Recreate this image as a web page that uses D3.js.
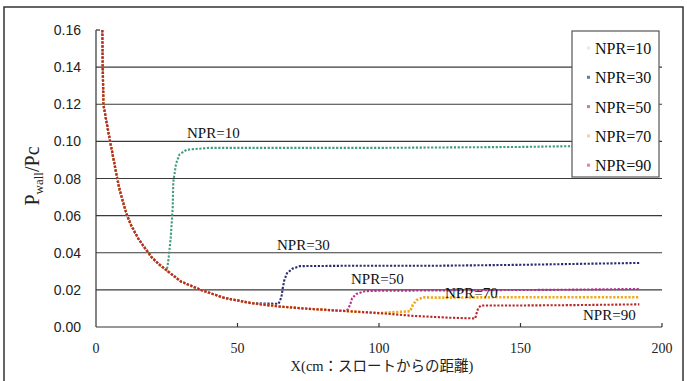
<!DOCTYPE html>
<html>
<head>
<meta charset="utf-8">
<script src="https://cdn.jsdelivr.net/npm/d3@7"></script>
<style>
  body { margin: 0; background: #fff; }
  svg { display: block; }
</style>
</head>
<body>
<svg id="chart" width="687" height="381"></svg>
<script>
// wall pressure ratio, X in cm from the throat
var decay = [[2.2,0.160],[2.3,0.150],[2.4,0.140],[2.5,0.130],[2.6,0.120],[4,0.108],[5,0.100],
  [6.5,0.088],[7.5,0.080],[8.5,0.073],[10,0.065],[11,0.060],[12.5,0.0545],[15,0.0475],[18,0.041],
  [20,0.037],[22.5,0.0335],[25,0.0305],[30,0.0245],[37,0.020],[45,0.0158],[55,0.0128],[65,0.0110],
  [75,0.0098],[88,0.0086],[100,0.0075],[112,0.0060],[125,0.0050],[134,0.0046]];

var npr10 = [[25.5,0.035],[26.4,0.048],[27.1,0.064],[27.3,0.078],[28.3,0.088],[29.5,0.093],
  [32,0.0955],[40,0.0965],[70,0.0965],[100,0.0965],[150,0.097],[193,0.098]];
var npr30 = [[64.5,0.0125],[65.5,0.016],[66,0.021],[66.5,0.025],[67.5,0.029],[69.5,0.0315],
  [72,0.0328],[90,0.033],[120,0.033],[150,0.0335],[170,0.034],[192,0.0345]];
var npr50 = [[89,0.0095],[89.8,0.012],[90.5,0.0155],[92,0.0178],[95,0.0193],[100,0.0195],
  [130,0.0198],[160,0.020],[192,0.0205]];
var npr70 = [[111,0.0085],[112,0.012],[113.3,0.0145],[115.5,0.016],[120,0.0158],[140,0.016],
  [165,0.016],[192,0.016]];
var npr90 = [[134.5,0.0075],[135,0.010],[136,0.0116],[150,0.0116],[170,0.0118],[192,0.0122]];

var names = ['NPR=10', 'NPR=30', 'NPR=50', 'NPR=70', 'NPR=90'];
var tails = [npr10, npr30, npr50, npr70, npr90];
var colors = ['#3f9c7e', '#2b2d6e', '#b2328c', '#f2a81d', '#b8282a'];
var legendColors = ['#dcecf4', '#5b7fa8', '#d07a90', '#f0d890', '#e08898'];
var xTicks = [0, 50, 100, 150, 200];
var yTicks = [0, 0.02, 0.04, 0.06, 0.08, 0.10, 0.12, 0.14, 0.16];

var svg = d3.select('#chart');
var x = d3.scaleLinear().domain([0, 200]).range([96, 662]);
var y = d3.scaleLinear().domain([0, 0.16]).range([327, 30]);

// outer frame
svg.append('rect')
  .attr('x', 4).attr('y', 7).attr('width', 679).attr('height', 390)
  .attr('fill', 'none').attr('stroke', '#333').attr('stroke-width', 1.5);

// gridlines
svg.selectAll('.grid').data(yTicks.filter(function(d) { return d > 0 && d < 0.16; }))
  .enter().append('line')
  .attr('x1', x(0)).attr('x2', x(200))
  .attr('y1', function(d) { return y(d); }).attr('y2', function(d) { return y(d); })
  .attr('stroke', '#3a3a3a').attr('stroke-width', 1.2);

// axes
svg.append('line').attr('x1', x(0)).attr('x2', x(0)).attr('y1', y(0)).attr('y2', y(0.16))
  .attr('stroke', '#333').attr('stroke-width', 1.2);
svg.append('line').attr('x1', x(0)).attr('x2', x(200)).attr('y1', y(0)).attr('y2', y(0))
  .attr('stroke', '#333').attr('stroke-width', 1.2);
svg.append('line').attr('x1', x(0)).attr('x2', x(0) + 4).attr('y1', y(0.16)).attr('y2', y(0.16))
  .attr('stroke', '#333').attr('stroke-width', 1.2);
svg.selectAll('.xtick').data(xTicks.slice(1)).enter().append('line')
  .attr('x1', function(d) { return x(d); }).attr('x2', function(d) { return x(d); })
  .attr('y1', y(0)).attr('y2', y(0) - 4)
  .attr('stroke', '#333').attr('stroke-width', 1.2);

svg.selectAll('.ylab').data(yTicks).enter().append('text')
  .attr('x', 81).attr('y', function(d) { return y(d) + 5; })
  .attr('text-anchor', 'end')
  .attr('font-family', 'Liberation Sans, sans-serif').attr('font-size', 14)
  .attr('fill', '#222')
  .text(function(d) { return d.toFixed(2); });

svg.selectAll('.xlab').data(xTicks).enter().append('text')
  .attr('x', function(d) { return x(d); }).attr('y', 353)
  .attr('text-anchor', 'middle')
  .attr('font-family', 'Liberation Serif, serif').attr('font-size', 14)
  .attr('fill', '#222')
  .text(function(d) { return d; });

svg.append('text')
  .attr('x', 382).attr('y', 371).attr('text-anchor', 'middle')
  .attr('font-family', 'Liberation Serif, Noto Sans CJK JP, serif').attr('font-size', 14.5)
  .attr('fill', '#222')
  .text('X(cm：スロートからの距離)');

var yTitle = svg.append('text')
  .attr('transform', 'translate(39,176) rotate(-90)')
  .attr('text-anchor', 'middle')
  .attr('font-family', 'Liberation Serif, serif').attr('font-size', 20)
  .attr('fill', '#222');
yTitle.append('tspan').text('P');
yTitle.append('tspan').attr('font-size', 13).attr('dy', 4).text('wall');
yTitle.append('tspan').attr('dy', -4).text('/Pc');

// series: shared decay up to the jump, then the recovered plateau
var line = d3.line()
  .x(function(d) { return x(d[0]); })
  .y(function(d) { return y(d[1]); });

tails.forEach(function(tail, i) {
  var pts = decay.filter(function(d) { return d[0] < tail[0][0]; }).concat(tail);
  svg.append('path')
    .attr('d', line(pts))
    .attr('fill', 'none')
    .attr('stroke', colors[i])
    .attr('stroke-width', i === 3 ? 2.6 : 2.1)
    .attr('stroke-dasharray', '2.2 1.6');
});

// curve labels
var labels = [
  {t: 'NPR=10', x: 187, y: 138},
  {t: 'NPR=30', x: 277, y: 250},
  {t: 'NPR=50', x: 351, y: 284},
  {t: 'NPR=70', x: 445, y: 298},
  {t: 'NPR=90', x: 583, y: 320}
];
svg.selectAll('.lab').data(labels).enter().append('text')
  .attr('x', function(d) { return d.x; }).attr('y', function(d) { return d.y; })
  .attr('font-family', 'Liberation Serif, serif').attr('font-size', 15)
  .attr('fill', '#111')
  .text(function(d) { return d.t; });

// legend
var lg = svg.append('g');
lg.append('rect').attr('x', 572).attr('y', 31).attr('width', 87).attr('height', 146)
  .attr('fill', '#fff').attr('stroke', '#555').attr('stroke-width', 1.2);
names.forEach(function(n, i) {
  var cy = 48 + i * 29.3;
  lg.append('rect').attr('x', 587).attr('y', cy - 1.5).attr('width', 3).attr('height', 3)
    .attr('fill', legendColors[i]);
  lg.append('text').attr('x', 595).attr('y', cy + 6)
    .attr('font-family', 'Liberation Serif, serif').attr('font-size', 16)
    .attr('fill', '#111')
    .text(n);
});
</script>
</body>
</html>
